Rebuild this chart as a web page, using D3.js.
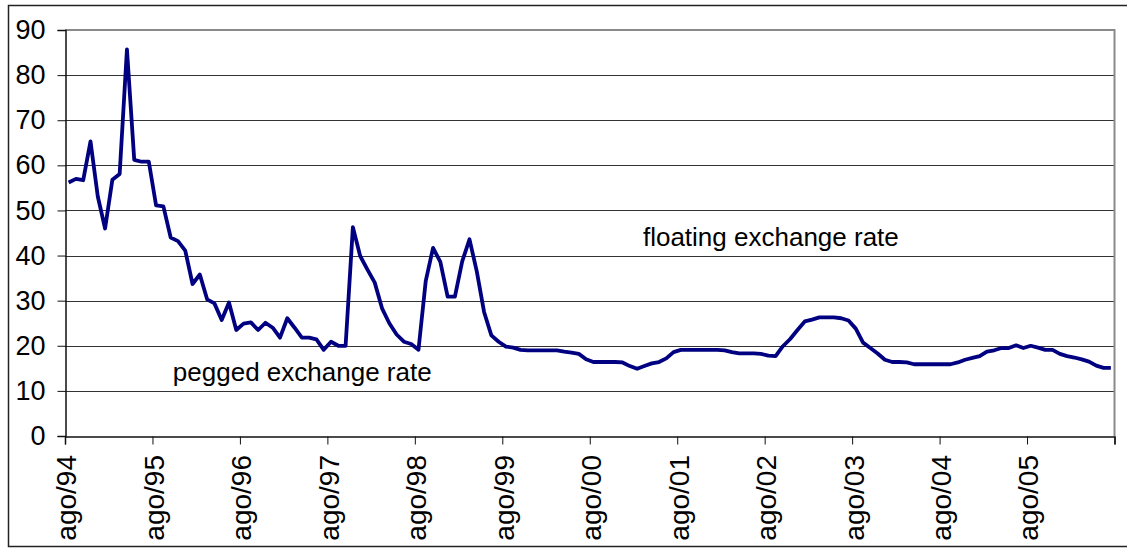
<!DOCTYPE html>
<html>
<head>
<meta charset="utf-8">
<script src="https://cdn.jsdelivr.net/npm/d3@7"></script>
<style>
  html, body { margin: 0; padding: 0; background: #fff; }
  svg { display: block; font-family: "Liberation Sans", Arial, sans-serif; }
</style>
</head>
<body>
<svg id="chart" width="1127" height="548"></svg>
<script>
// Monthly values, Aug 1994 .. Jul 2006 (144 months)
const values = [
  56.2, 57.0, 56.7, 65.3, 53.1, 46.0, 56.8, 58.1, 85.7, 61.2, 60.8, 60.8,
  51.1, 50.9, 44.0, 43.2, 41.1, 33.7, 35.8, 30.3, 29.4, 25.7, 29.6, 23.5,
  24.9, 25.2, 23.5, 25.1, 24.0, 21.8, 26.1, 24.0, 21.8, 21.8, 21.4, 19.1,
  20.9, 20.0, 20.0, 46.3, 39.9, 36.9, 34.0, 28.3, 25.0, 22.5, 20.9, 20.4,
  19.1, 34.4, 41.7, 38.6, 30.9, 30.9, 38.7, 43.6, 36.5, 27.5, 22.3, 20.9,
  19.8, 19.6, 19.1, 19.0, 19.0, 19.0, 19.0, 19.0, 18.7, 18.5, 18.2, 17.0,
  16.4, 16.4, 16.4, 16.4, 16.3, 15.5, 14.9, 15.5, 16.1, 16.4, 17.2, 18.6,
  19.1, 19.1, 19.1, 19.1, 19.1, 19.1, 19.0, 18.6, 18.3, 18.3, 18.3, 18.2,
  17.8, 17.7, 19.9, 21.5, 23.5, 25.4, 25.8, 26.3, 26.3, 26.3, 26.1, 25.6,
  23.8, 20.7, 19.5, 18.3, 16.9, 16.4, 16.4, 16.3, 15.9, 15.9, 15.9, 15.9,
  15.9, 15.9, 16.3, 16.9, 17.3, 17.7, 18.7, 19.0, 19.5, 19.5, 20.1, 19.5,
  20.0, 19.6, 19.1, 19.1, 18.2, 17.7, 17.4, 17.0, 16.5, 15.6, 15.1, 15.1
];
const tickLabels = ["ago/94","ago/95","ago/96","ago/97","ago/98","ago/99",
                    "ago/00","ago/01","ago/02","ago/03","ago/04","ago/05"];
const yTicks = [0, 10, 20, 30, 40, 50, 60, 70, 80, 90];
const annotations = [
  { text: "floating exchange rate", idx: 79.3, val: 42.1 },
  { text: "pegged exchange rate", idx: 14.8, val: 12.2 }
];

const svg = d3.select("#chart");
const L = 65, R = 1114.5, T = 30, B = 436;
const nCat = values.length;

const x = d3.scaleLinear().domain([0, nCat]).range([L, R]);
const y = d3.scaleLinear().domain([0, 90]).range([B, T]);

// outer frame
svg.append("rect")
  .attr("x", 8.5).attr("y", 5.5)
  .attr("width", 1130).attr("height", 541)
  .attr("fill", "none").attr("stroke", "#222").attr("stroke-width", 1.5);

// gridlines
svg.append("g").selectAll("line")
  .data(yTicks.filter(d => d > 0 && d < 90))
  .join("line")
  .attr("x1", L).attr("x2", R)
  .attr("y1", d => Math.round(y(d)) + 0.5).attr("y2", d => Math.round(y(d)) + 0.5)
  .attr("stroke", "#333").attr("stroke-width", 1);

// plot area border (top & right), grey
svg.append("path")
  .attr("d", `M${L},${T} H${R} V${B}`)
  .attr("fill", "none").attr("stroke", "#8a8a8a").attr("stroke-width", 2);

// y axis
const yAxis = d3.axisLeft(y).tickValues(yTicks).tickSize(8).tickPadding(12).tickFormat(d3.format("d"));
const gy = svg.append("g").attr("transform", `translate(${L + 0.5},0)`).call(yAxis);
gy.select(".domain").attr("stroke", "#111").attr("stroke-width", 1.5);
gy.selectAll(".tick line").attr("stroke", "#111");
gy.selectAll(".tick text")
  .attr("font-family", "Liberation Sans, Arial, sans-serif")
  .attr("font-size", 27).attr("fill", "#000");

// x axis (ticks at category boundaries every 12 months)
const xTickVals = d3.range(0, nCat + 1, 12);
const xAxis = d3.axisBottom(x).tickValues(xTickVals).tickSize(8).tickFormat("");
const gx = svg.append("g").attr("transform", `translate(0,${B + 0.5})`).call(xAxis);
gx.select(".domain").attr("stroke", "#111").attr("stroke-width", 1.5);
gx.selectAll(".tick line").attr("stroke", "#111");

// x labels, rotated, centered under category
svg.append("g").selectAll("text")
  .data(tickLabels)
  .join("text")
  .attr("transform", (d, i) => `translate(${x(i * 12 + 0.5) - 2},455) rotate(-90)`)
  .attr("text-anchor", "end")
  .attr("dy", "0.35em")
  .attr("font-size", 28)
  .attr("fill", "#000")
  .text(d => d);

// data line
const line = d3.line()
  .x((d, i) => x(i + 0.5))
  .y(d => y(d));
svg.append("path")
  .datum(values)
  .attr("d", line)
  .attr("fill", "none")
  .attr("stroke", "#000080")
  .attr("stroke-width", 3.8)
  .attr("stroke-linejoin", "round")
  .attr("stroke-linecap", "butt");

// annotations
svg.append("g").selectAll("text")
  .data(annotations)
  .join("text")
  .attr("x", d => x(d.idx))
  .attr("y", d => y(d.val))
  .attr("font-size", 26)
  .attr("fill", "#000")
  .text(d => d.text);
</script>
</body>
</html>
